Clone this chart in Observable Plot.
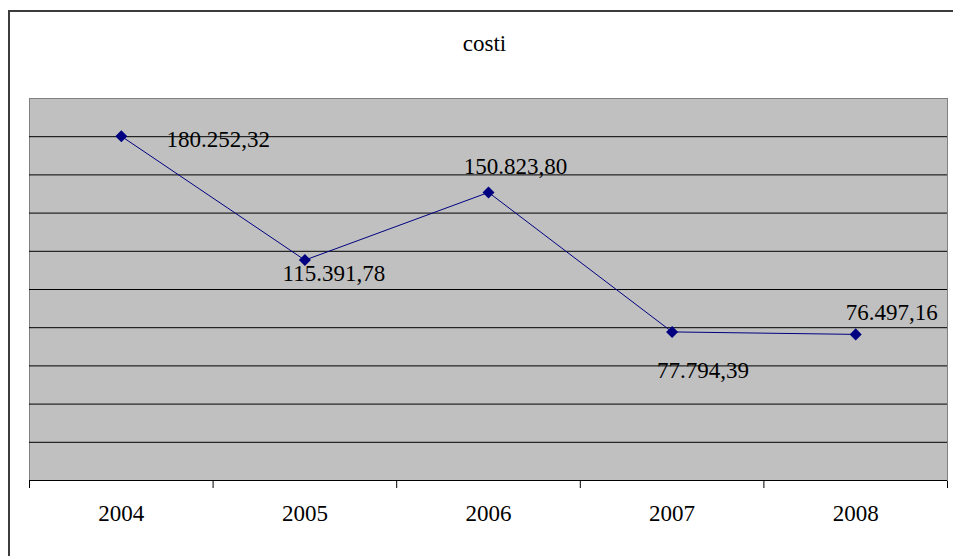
<!DOCTYPE html>
<html>
<head>
<meta charset="utf-8">
<script src="https://cdn.jsdelivr.net/npm/d3@7"></script>
<script src="https://cdn.jsdelivr.net/npm/@observablehq/plot@0.6"></script>
<style>
  html, body { margin: 0; padding: 0; background: #fff; overflow: hidden; }
  #wrap { position: relative; width: 953px; height: 556px; }
  #chart svg, #chart svg text { font-family: "Liberation Serif", "Times New Roman", serif !important; }
  #edge {
    position: absolute; left: 8px; top: 10px; width: 980px; height: 600px;
    border: 2px solid #3c3c3c; box-sizing: border-box; pointer-events: none;
  }
</style>
</head>
<body>
<div id="wrap"><div id="chart"></div><div id="edge"></div></div>
<script>
// Annual costs, 2004–2008
const title = "costi";
const years = [2004, 2005, 2006, 2007, 2008];
const costs = [180252.32, 115391.78, 150823.80, 77794.39, 76497.16];

// y axis: 0 – 200.000 with a gridline every 20.000
const yMax = 200000;
const yStep = 20000;

// label nudges (dx, dy) relative to each marker
const labelNudge = [[97, 3], [29, 14], [27, -26], [31, 39], [36, -22]];

const data = years.map((year, i) => ({year, cost: costs[i], nudge: labelNudge[i]}));

const itFormat = d3.formatLocale({decimal: ",", thousands: ".", grouping: [3], currency: ["€", ""]}).format(",.2f");

const font = "Liberation Serif";
const fontSize = 23;

// category boundaries for the x tick marks
const bounds = years.map(y => y - 0.5).concat([years[years.length - 1] + 0.5]);
const gridValues = d3.range(yStep, yMax, yStep);

// rotated-square marker
const diamond = {
  draw(context, size) {
    const r = Math.sqrt(size / 2);
    context.moveTo(0, -r);
    context.lineTo(r, 0);
    context.lineTo(0, r);
    context.lineTo(-r, 0);
    context.closePath();
  }
};

const chart = Plot.plot({
  width: 953,
  height: 556,
  marginLeft: 29,
  marginRight: 6,
  marginTop: 98,
  marginBottom: 76,
  style: {background: "transparent"},
  x: {
    type: "linear",
    domain: [bounds[0], bounds[bounds.length - 1]],
    ticks: bounds,
    tickFormat: () => "",
    tickSize: 8,
    label: null
  },
  y: {domain: [0, yMax], axis: null},
  marks: [
    Plot.frame({fill: "#c0c0c0", stroke: "#808080"}),
    Plot.ruleY(gridValues, {stroke: "#000", strokeWidth: 1}),
    Plot.ruleY([0], {stroke: "#000", strokeWidth: 1}),
    Plot.line(data, {x: "year", y: "cost", stroke: "#000080", strokeWidth: 1}),
    Plot.dot(data, {x: "year", y: "cost", symbol: diamond, r: 4.8, fill: "#000080", stroke: "none"}),
    ...data.map(d => Plot.text([d], {
      x: "year", y: "cost",
      text: v => itFormat(v.cost),
      dx: d.nudge[0], dy: d.nudge[1],
      fontFamily: font, fontSize, fill: "#000", textAnchor: "middle", lineAnchor: "middle"
    })),
    Plot.text(years, {
      x: d => d, frameAnchor: "bottom", dy: 33, lineAnchor: "middle",
      text: d => String(d), fontFamily: font, fontSize, fill: "#000"
    }),
    Plot.text([title], {
      frameAnchor: "top", dy: -55, dx: -4, lineAnchor: "middle",
      text: d => d, fontFamily: font, fontSize, fill: "#000"
    })
  ]
});

document.getElementById("chart").appendChild(chart);
</script>
</body>
</html>
